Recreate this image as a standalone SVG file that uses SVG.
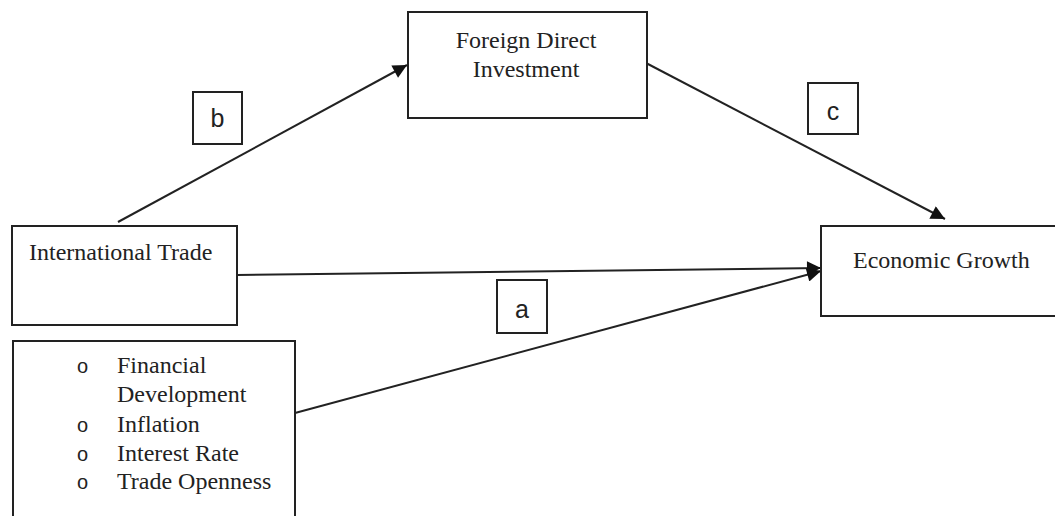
<svg xmlns="http://www.w3.org/2000/svg" width="1055" height="516" viewBox="0 0 1055 516">
<style>
.box{fill:#fff;stroke:#222;stroke-width:2}
.t{font-family:"Liberation Serif","Times New Roman",serif;font-size:24px;fill:#222}
.lbl{font-family:"Liberation Sans",Arial,sans-serif;font-size:25px;fill:#222;text-anchor:middle}
.bul{font-family:"Liberation Sans",Arial,sans-serif;font-size:20px;fill:#222}
.edge{stroke:#222;stroke-width:2;fill:none;marker-end:url(#ah)}
</style>
<defs>
<marker id="ah" viewBox="0 0 10 10" refX="10" refY="5" markerWidth="16" markerHeight="14" markerUnits="userSpaceOnUse" orient="auto">
<path d="M0,0 L10,5 L0,10 Z" fill="#111"/>
</marker>
</defs>
<rect width="1055" height="516" fill="#fff"/>
<g id="connectors">
<line class="edge" x1="118" y1="222" x2="407" y2="65"/>
<line class="edge" x1="646" y1="63" x2="945" y2="219"/>
<line class="edge" x1="237" y1="275" x2="821" y2="268"/>
<line class="edge" x1="295" y1="413" x2="821" y2="271"/>
</g>
<g id="fdi">
<rect class="box" x="408" y="12" width="239" height="106"/>
<text class="t" x="526" y="48" text-anchor="middle">Foreign Direct</text>
<text class="t" x="526" y="77" text-anchor="middle">Investment</text>
</g>
<g id="trade">
<rect class="box" x="12" y="226" width="225" height="99"/>
<text class="t" x="29" y="260">International Trade</text>
</g>
<g id="growth">
<rect class="box" x="821" y="226" width="240" height="90"/>
<text class="t" x="853" y="268">Economic Growth</text>
</g>
<g id="controls">
<rect class="box" x="13" y="341" width="282" height="185"/>
<text class="bul" x="77" y="373">o</text>
<text class="t" x="117" y="373">Financial</text>
<text class="t" x="117" y="402">Development</text>
<text class="bul" x="77" y="432">o</text>
<text class="t" x="117" y="432">Inflation</text>
<text class="bul" x="77" y="461">o</text>
<text class="t" x="117" y="461">Interest Rate</text>
<text class="bul" x="77" y="489">o</text>
<text class="t" x="117" y="489">Trade Openness</text>
</g>
<g id="label-b">
<rect class="box" x="193" y="92" width="49" height="52"/>
<text class="lbl" x="217.5" y="127">b</text>
</g>
<g id="label-c">
<rect class="box" x="808" y="83" width="50" height="51"/>
<text class="lbl" x="833" y="120">c</text>
</g>
<g id="label-a">
<rect class="box" x="497" y="280" width="50" height="53"/>
<text class="lbl" x="522" y="318">a</text>
</g>
</svg>
